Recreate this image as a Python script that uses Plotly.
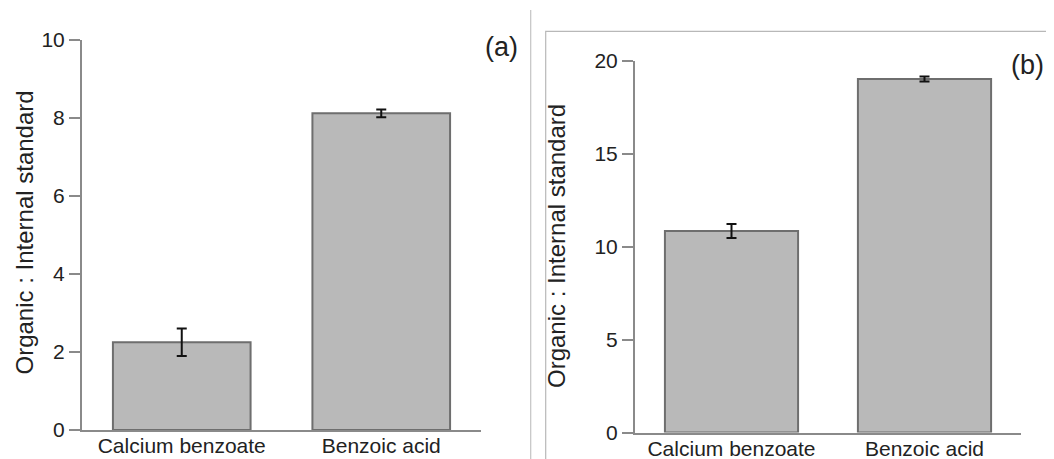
import plotly.graph_objects as go

# ---- data ----
categories = ["Calcium benzoate", "Benzoic acid"]
ratio_a = [2.25, 8.12]
err_a = [0.35, 0.10]
ratio_b = [10.85, 19.03]
err_b = [0.38, 0.14]
yticks_a = [0, 2, 4, 6, 8, 10]
yticks_b = [0, 5, 10, 15, 20]
y_title = "Organic : Internal standard"
panel_labels = ["(a)", "(b)"]

WIN_W, WIN_H = 1054, 459
OFFX, OFFY = 8, 8   # page offset of the figure inside the window
W, H = WIN_W - OFFX, WIN_H - OFFY
FONT = "Liberation Sans, Arial, sans-serif"
TXT = "#222222"
AXC = "#8a8a8a"
BAR_FILL = "#b9b9b9"
BAR_LINE = "#6e6e6e"

def px_x(p):
    return (p - OFFX) / W

def px_y(p):
    return 1 - (p - OFFY) / H

fig = go.Figure()

for cats, vals, errs, xa, ya in [
    (categories, ratio_a, err_a, "x", "y"),
    (categories, ratio_b, err_b, "x2", "y2"),
]:
    fig.add_trace(go.Bar(
        x=cats, y=vals, xaxis=xa, yaxis=ya, width=0.69,
        marker=dict(color=BAR_FILL, line=dict(color=BAR_LINE, width=2)),
        error_y=dict(type="data", array=errs, visible=True,
                     color="#111111", thickness=2, width=5),
        showlegend=False, hoverinfo="skip",
    ))

cat_axis = dict(
    type="category", range=[-0.5, 1.5], showline=True, linecolor=AXC,
    linewidth=2, ticks="", showgrid=False, zeroline=False, automargin=False,
    ticklabelstandoff=-4,
    tickfont=dict(family=FONT, size=21, color=TXT),
)
bound_axis = dict(
    range=[-0.5, 1.5], tickvals=[-0.5, 0.5, 1.5], ticks="outside",
    ticklen=10, tickwidth=2, tickcolor=AXC, showticklabels=False,
    showline=False, showgrid=False, zeroline=False, automargin=False,
)
val_axis = dict(
    showline=True, linecolor=AXC, linewidth=2, ticks="outside", ticklen=11,
    tickwidth=2, tickcolor=AXC, showgrid=False, zeroline=False,
    automargin=False,
    tickfont=dict(family=FONT, size=21, color=TXT),
)

dom_xa = [px_x(82), px_x(481)]
dom_ya = [px_y(430), px_y(40)]
dom_xb = [px_x(635), px_x(1021)]
dom_yb = [px_y(432.5), px_y(61)]

fig.update_layout(
    width=W, height=H,
    margin=dict(l=0, r=0, t=0, b=0, pad=0, autoexpand=False),
    paper_bgcolor="white", plot_bgcolor="white", showlegend=False,
    xaxis=dict(cat_axis, domain=dom_xa, anchor="y"),
    yaxis=dict(val_axis, domain=dom_ya, anchor="x", range=[0, 10],
               tickvals=yticks_a),
    xaxis2=dict(cat_axis, domain=dom_xb, anchor="y2"),
    yaxis2=dict(val_axis, domain=dom_yb, anchor="x2", range=[0, 20],
                tickvals=yticks_b),
    xaxis3=dict(bound_axis, overlaying="x", anchor="y"),
    xaxis4=dict(bound_axis, overlaying="x2", anchor="y2"),
)

# separator line and frame around panel (b)
fig.add_shape(type="line", xref="paper", yref="paper",
              x0=px_x(530.7), x1=px_x(530.7), y0=-0.05, y1=px_y(10),
              line=dict(color="#c4c4c4", width=1.2), layer="below")
fig.add_shape(type="rect", xref="paper", yref="paper",
              x0=px_x(545.7), x1=1.05, y0=-0.05, y1=px_y(31.3),
              line=dict(color="#b8b8b8", width=1.2), layer="below")

# y-axis titles
for xc, yc in [(23.5, 233), (556, 246)]:
    fig.add_annotation(text=y_title, xref="paper", yref="paper",
                       x=px_x(xc), y=px_y(yc), showarrow=False,
                       textangle=-90, xanchor="center", yanchor="middle",
                       font=dict(family=FONT, size=24, color=TXT))

# panel labels
for lab, (xc, yc) in zip(panel_labels, [(501, 47), (1027, 65)]):
    fig.add_annotation(text=lab, xref="paper", yref="paper",
                       x=px_x(xc), y=px_y(yc), showarrow=False,
                       xanchor="center", yanchor="middle",
                       font=dict(family=FONT, size=27, color=TXT))

fig.write_html("out.html")
